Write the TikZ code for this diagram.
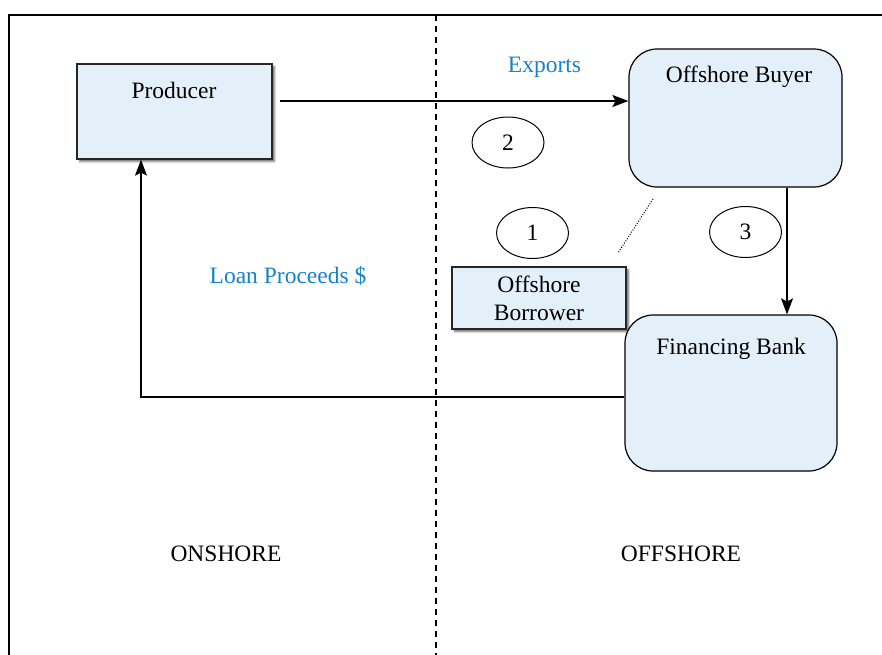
\documentclass[tikz,border=0pt]{standalone}
\usepackage{fontspec}
\setmainfont{Liberation Serif}
\usetikzlibrary{arrows.meta,shadows.blur,shapes.geometric}
\definecolor{boxfill}{RGB}{227,240,249}
\definecolor{labelblue}{RGB}{22,130,200}

\begin{document}
\begin{tikzpicture}[x=1pt,y=-1pt,
  every node/.style={font=\fontsize{23.5}{28}\selectfont},
  txt/.style={anchor=base, inner sep=0pt},
  note/.style={txt, text=labelblue},
  flatbox/.style={draw=black!85, line width=1.3pt, fill=boxfill, inner sep=0pt,
    blur shadow={shadow xshift=2.5pt, shadow yshift=-2.5pt, shadow blur steps=4, shadow opacity=60}},
  roundbox/.style={draw=black, line width=1.2pt, fill=boxfill, rounded corners=28pt, inner sep=0pt},
  marker/.style={draw, ellipse, line width=1pt, minimum width=72pt, minimum height=51pt, inner sep=0pt},
  flow/.style={line width=1.2pt, -{Stealth[length=16pt,width=12pt,inset=3pt]}},
]
\useasboundingbox (0,0) rectangle (882,654);

% frame and the onshore/offshore divider
\draw[line width=1.5pt] (9,660) -- (9,15) -- (890,15);
\draw[line width=1.2pt, dash pattern=on 6pt off 5pt] (436,15) -- (436,660);

% boxes
\node[flatbox, minimum width=195pt, minimum height=95pt] (producer) at (174.5,111.5) {};
\node[flatbox, minimum width=174pt, minimum height=62pt] (borrower) at (539,298) {};
\node[roundbox, minimum width=213pt, minimum height=138pt] (buyer) at (735.5,118) {};
\node[roundbox, minimum width=212pt, minimum height=156pt] (bank) at (731,393) {};

% box titles
\node[txt] (producerT) at (174,98) {Producer};
\node[txt] (buyerT) at (739,82) {Offshore Buyer};
\node[txt] (bankT) at (731,354) {Financing Bank};
\node[txt] (borrowerT1) at (539,292) {Offshore};
\node[txt] (borrowerT2) at (539,320) {Borrower};

% step markers
\node[marker] (m2) at (508,142.5) {2};
\node[marker] (m1) at (532.5,233) {1};
\node[marker] (m3) at (745.5,232) {3};

% flows
\coordinate (exportStart) at ([shift={(7,-10.5)}]producer.east);
\draw[flow] (exportStart) -- (exportStart -| buyer.west);
\coordinate (payStart) at ([xshift=51.5pt]buyer.south);
\draw[flow] (payStart) -- (payStart |- bank.north);
\draw[flow] ([yshift=-4pt]bank.west) -| ([xshift=-33.5pt]producer.south);

% link between borrower and buyer
\coordinate (linkA) at (653,199);
\coordinate (linkB) at (618,253);
\draw[line width=1pt, dash pattern=on 1pt off 1.6pt] (linkA) -- (linkB);

% flow labels
\node[note] (exportsL) at (544.5,72) {Exports};
\node[note] (loanL) at (288,283) {Loan Proceeds \$};

% regions
\node[txt] (onshoreL) at (226,561) {ONSHORE};
\node[txt] (offshoreL) at (681,561) {OFFSHORE};
\end{tikzpicture}
\end{document}
